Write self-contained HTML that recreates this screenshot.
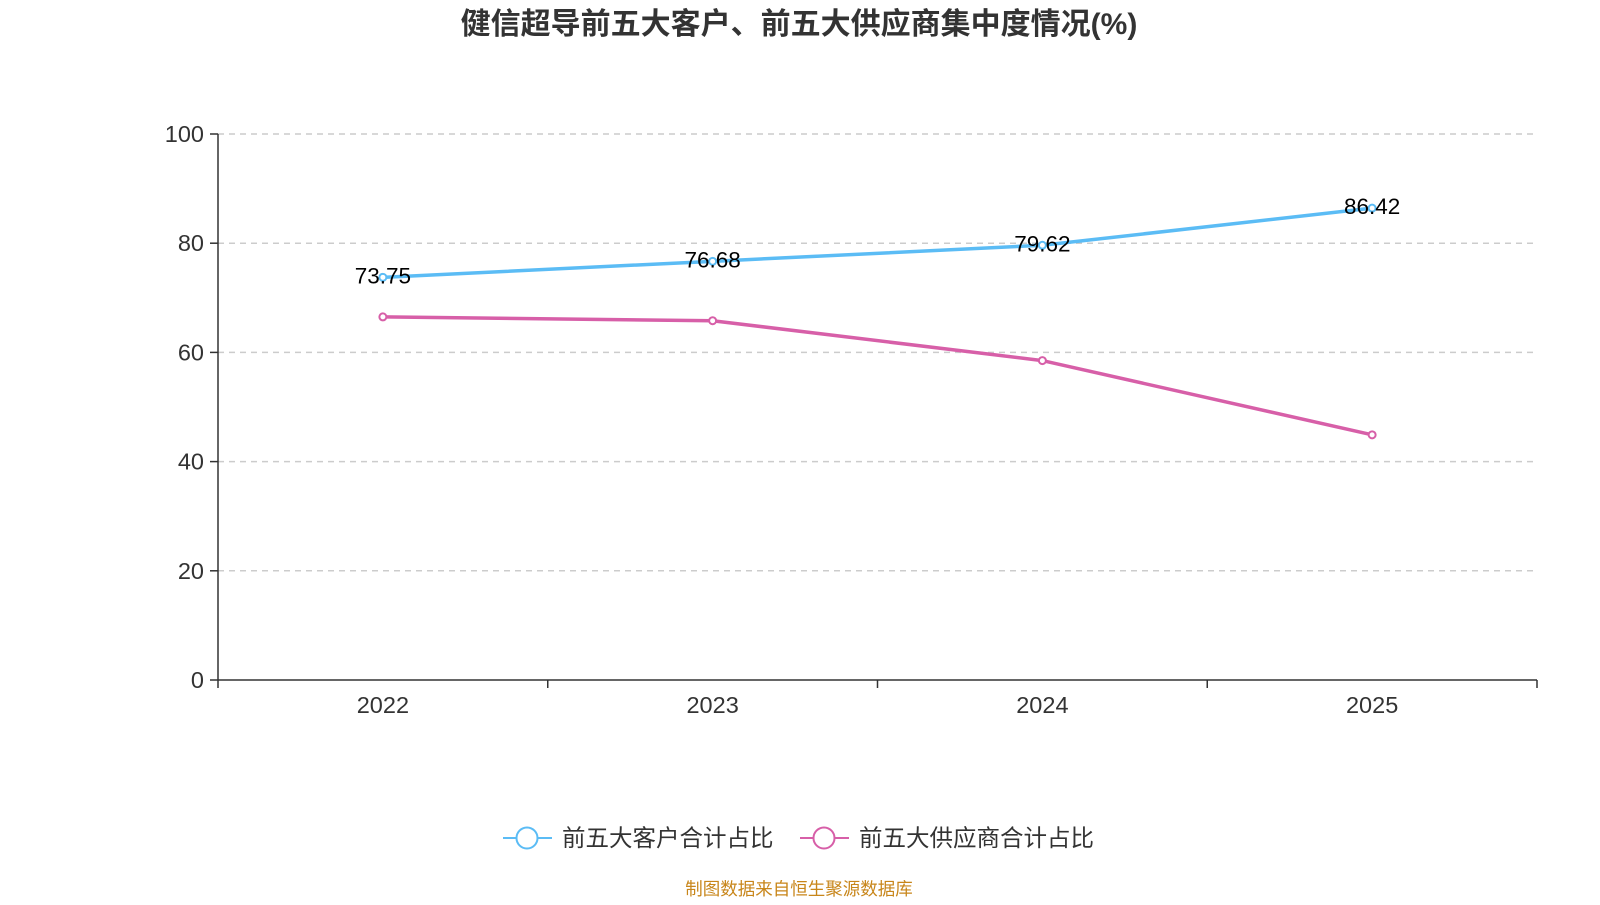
<!DOCTYPE html>
<html><head><meta charset="utf-8"><style>
body{margin:0;background:#fff;width:1600px;height:900px;overflow:hidden;font-family:"Liberation Sans","Noto Sans CJK SC",sans-serif;}
</style></head><body>
<svg width="1600" height="900" font-family="Liberation Sans, Noto Sans CJK SC, sans-serif">
<text x="799" y="34" text-anchor="middle" font-size="30" font-weight="bold" fill="#333">健信超导前五大客户、前五大供应商集中度情况(%)</text>
<g id="grid"></g><g id="axes"></g><g id="series"></g>
<g>
<g><line x1="503" y1="838" x2="552" y2="838" stroke="#5bbcf5" stroke-width="2"/><circle cx="527" cy="838" r="10.5" fill="#fff" stroke="#5bbcf5" stroke-width="2"/><text x="562" y="846" font-size="23.5" fill="#333">前五大客户合计占比</text></g>
<g><line x1="800" y1="838" x2="849" y2="838" stroke="#d75fa8" stroke-width="2"/><circle cx="824" cy="838" r="10.5" fill="#fff" stroke="#d75fa8" stroke-width="2"/><text x="859" y="846" font-size="23.5" fill="#333">前五大供应商合计占比</text></g>
</g>
<text x="799" y="895" text-anchor="middle" font-size="17.5" fill="#c8861a">制图数据来自恒生聚源数据库</text>
</svg>
<script>
const categories=["2022","2023","2024","2025"];
const customers=[73.75,76.68,79.62,86.42];
const suppliers=[66.5,65.8,58.5,44.9];
const yTicks=[0,20,40,60,80,100];
const NS="http://www.w3.org/2000/svg";
const x0=218,x1=1537,y0=680,y1=134;
const bw=(x1-x0)/categories.length;
const xs=i=>x0+bw*(i+0.5);
const ys=v=>y0-(v/100)*(y0-y1);
function mk(p,t,a){const e=document.createElementNS(NS,t);for(const k in a)e.setAttribute(k,a[k]);p.appendChild(e);return e;}
const grid=document.getElementById('grid'),axes=document.getElementById('axes'),ser=document.getElementById('series');
yTicks.forEach(v=>{
 if(v>0){const g=mk(grid,'line',{x1:x0,x2:x1,y1:ys(v),y2:ys(v),stroke:'#ccc','stroke-dasharray':'6,5','stroke-width':1.5});
 
 }
 const tk=mk(axes,'line',{x1:x0-8,x2:x0,y1:ys(v),y2:ys(v),stroke:'#333','stroke-width':1.5});
 
 
 const t=mk(axes,'text',{x:x0-14,y:ys(v)+8,'text-anchor':'end','font-size':23.5,fill:'#333'});t.textContent=v;
 
 
});
const ya=mk(axes,'line',{x1:x0,x2:x0,y1:y1,y2:y0,stroke:'#333','stroke-width':1.5});


const xa=mk(axes,'line',{x1:x0,x2:x1,y1:y0,y2:y0,stroke:'#333','stroke-width':1.5});


for(let i=0;i<=categories.length;i++){const t=mk(axes,'line',{x1:x0+bw*i,x2:x0+bw*i,y1:y0,y2:y0+8,stroke:'#333','stroke-width':1.5});
 
 }
categories.forEach((c,i)=>{const t=mk(axes,'text',{x:xs(i),y:y0+33,'text-anchor':'middle','font-size':23.5,fill:'#333'});t.textContent=c;
 
 });
function series(vals,color,name,labels){
 const p=mk(ser,'polyline',{points:vals.map((v,i)=>xs(i)+','+ys(v)).join(' '),fill:'none',stroke:color,'stroke-width':3.5});
 
 
 vals.forEach((v,i)=>{
  const c=mk(ser,'circle',{cx:xs(i),cy:ys(v),r:3.5,fill:'#fff',stroke:color,'stroke-width':2});
  
  
  if(labels){const t=mk(ser,'text',{x:xs(i),y:ys(v)+6,'text-anchor':'middle','font-size':22.5,fill:'#000'});t.textContent=v.toFixed(2);
  
  }
 });
}
series(suppliers,'#d75fa8','suppliers',false);
series(customers,'#5bbcf5','customers',true);
</script>
</body></html>
